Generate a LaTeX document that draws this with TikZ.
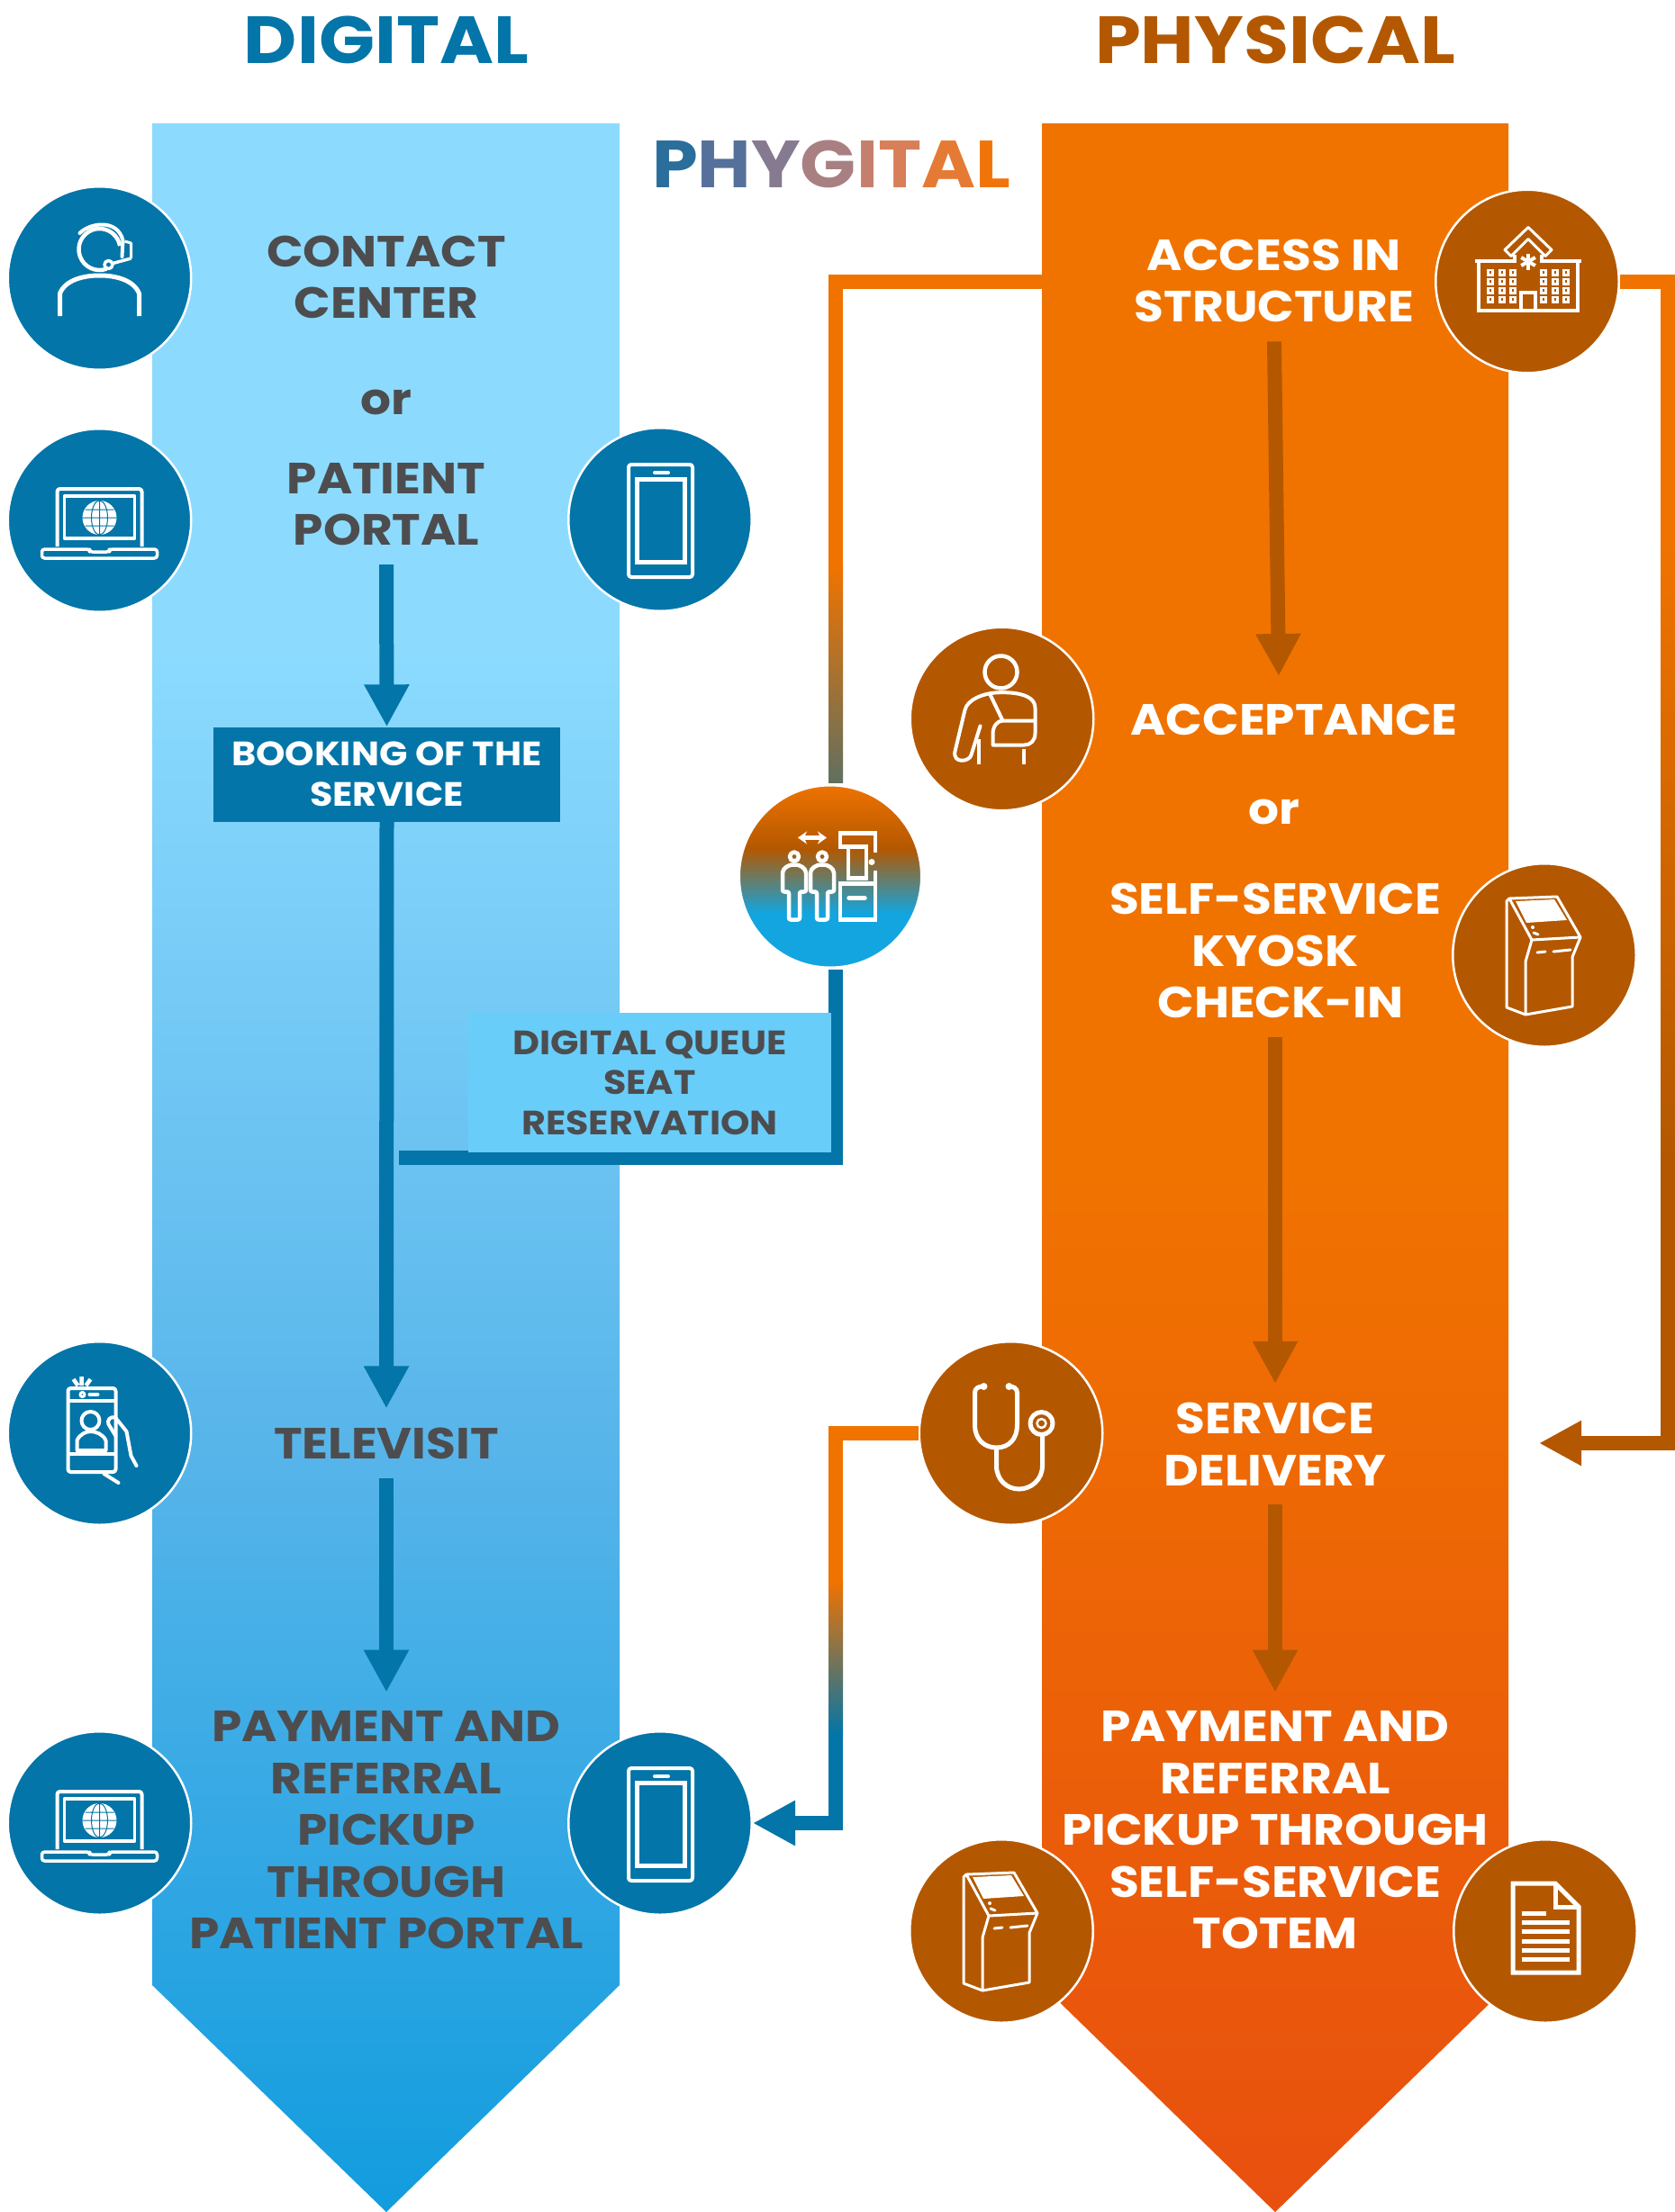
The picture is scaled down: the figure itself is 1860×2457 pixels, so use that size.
\documentclass[tikz,border=0pt]{standalone}
\usepackage{fontspec}
\setmainfont{Poppins}[FakeStretch=1.1]
\usetikzlibrary{arrows.meta,positioning,calc}

\definecolor{digitalblue}{HTML}{0375A8}
\definecolor{physbrown}{HTML}{B35800}
\definecolor{physorange}{HTML}{F07300}
\definecolor{labelgray}{HTML}{4D4D4F}
\definecolor{queuefill}{HTML}{69CDF9}
\definecolor{skyblue}{HTML}{12A5E0}
\definecolor{midgray}{HTML}{61705F}
\definecolor{panelbottom}{HTML}{129CDE}
\definecolor{panelmid}{HTML}{58B5EA}
\definecolor{paneltop}{HTML}{8CDBFF}
\definecolor{orangeend}{HTML}{E8500F}

% 25bp is the bottom of the shaded path, 75bp its top
\pgfdeclareverticalshading{digitalpanel}{100bp}{color(0bp)=(panelbottom);color(25bp)=(panelbottom);color(43.5bp)=(panelmid);color(62.5bp)=(paneltop);color(75bp)=(paneltop);color(100bp)=(paneltop)}
\pgfdeclareverticalshading{physicalpanel}{100bp}{color(0bp)=(orangeend);color(25bp)=(orangeend);color(50bp)=(physorange);color(100bp)=(physorange)}
\pgfdeclareverticalshading{queuedot}{100bp}{color(0bp)=(skyblue);color(40bp)=(skyblue);color(57.5bp)=(physbrown);color(75bp)=(physorange);color(100bp)=(physorange)}

\tikzset{
    iconline/.style={draw=white, line width=4pt, fill=none, line join=round},
    laptopicon/.pic={
        \draw[iconline, rounded corners=3pt] (-47,29) -- (-47,-35) -- (47,-35) -- (47,29);
        \draw[iconline, line width=3.5pt] (-39,-27) rectangle (39,20);
        \fill[white] (0,-3) circle[radius=19pt];
        \draw[digitalblue, line width=1pt] (0,-3) circle[x radius=9pt, y radius=19pt] (-19,-3) -- (19,-3) (0,-22) -- (0,16) (-16,-12) -- (16,-12) (-16,6) -- (16,6);
        \draw[iconline, line width=3.5pt, rounded corners=3pt] (-64,32) -- (-64,42) -- (64,42) -- (64,32) -- (11,32) -- (11,35) -- (-11,35) -- (-11,32) -- cycle;
    },
    phoneicon/.pic={
        \draw[iconline, rounded corners=3pt] (-35,-61) rectangle (36,64);
        \draw[iconline, line width=5pt, line join=miter] (-26,-45) rectangle (27,47);
        \draw[white, line width=4pt, line cap=round] (-6,-52) -- (9,-52);
    },
    kioskicon/.pic={
        \draw[iconline, line width=3pt] (-39,-63) -- (-42,-60) -- (-42,58) -- (-21,66) -- (31,57) -- (31,2) -- (40,-20) -- (14,-65) -- cycle;
        \draw[iconline, line width=3pt] (-39,-63) -- (-14,-17) -- (40,-20) (-14,-17) -- (-21,7) -- (-21,66);
        \fill[white] (-32,-60) -- (11,-62) -- (25,-39) -- (-20,-36) -- cycle;
        \fill[white] (-13,-31) circle[radius=2pt];
        \draw[white, line width=3pt, line cap=round] (-12,-25) -- (-7,-23) (-8,-3) -- (1,-4) (10,-4) -- (29,-6);
    },
}

\begin{document}
\begin{tikzpicture}[
        x=1pt, y=-1pt,
        every node/.style={inner sep=0pt, align=center},
        bluedot/.style={circle, draw=white, line width=2.5pt, fill=digitalblue, minimum size=203.5pt},
        browndot/.style={circle, draw=white, line width=2.5pt, fill=physbrown, minimum size=203.5pt},
        mixdot/.style={circle, draw=white, line width=5pt, shading=queuedot, minimum size=205pt},
        grayline/.style={text=labelgray, font=\fontsize{48.5}{57.5}\selectfont\bfseries, inner ysep=21pt},
        whiteline/.style={text=white, font=\fontsize{48.5}{57.5}\selectfont\bfseries, inner ysep=21pt},
        smallhead/.style={font=\fontsize{37.5}{44.5}\selectfont\bfseries},
        titlehead/.style={font=\fontsize{74}{74}\selectfont\bfseries},
        bluearrow/.style={draw=digitalblue, line width=16pt, -{Triangle[width=47pt,length=47pt]}},
        brownarrow/.style={draw=physbrown, line width=16pt, -{Triangle[width=47pt,length=47pt]}},
    ]
    \useasboundingbox (0,0) rectangle (1860,2457);

    % the two big arrows
    \shade[shading=digitalpanel] (169,137) -- (688,137) -- (688,2205) -- (429,2457) -- (169,2205) -- cycle;
    \shade[shading=physicalpanel] (1157,137) -- (1675,137) -- (1675,2205) -- (1416,2457) -- (1157,2205) -- cycle;

    % titles
    \node[titlehead, text=digitalblue] (digitaltitle) at (429,44) {DIGITAL};
    \node[titlehead, text=physbrown] (physicaltitle) at (1416,44) {PHYSICAL};
    \node[titlehead] (phygitaltitle) at (923,182) {\textcolor[HTML]{2A6E9C}{P}\textcolor[HTML]{55709A}{H}\textcolor[HTML]{857A90}{Y}\textcolor[HTML]{A98082}{G}\textcolor[HTML]{C57F6C}{I}\textcolor[HTML]{D87E58}{T}\textcolor[HTML]{E57A35}{A}\textcolor[HTML]{F0740A}{L}};

    % digital column
    \node[grayline] (contact) at (429,308) {CONTACT\\CENTER};
    \node[grayline] (ordigital) at (429,447) {or};
    \node[grayline] (portal) at (429,560) {PATIENT\\PORTAL};
    \node[fill=digitalblue, text=white, smallhead, minimum width=385pt, minimum height=105pt] (booking) at (429.5,860) {BOOKING OF THE\\SERVICE};
    \node[grayline] (televisit) at (429,1603) {TELEVISIT};
    \node[grayline] (paydigital) at (429,2033) {PAYMENT AND\\REFERRAL\\PICKUP\\THROUGH\\PATIENT PORTAL};

    % physical column
    \node[whiteline] (access) at (1415,312) {ACCESS IN\\STRUCTURE};
    \node[whiteline] (acceptance) at (1437,799) {ACCEPTANCE};
    \node[whiteline] (orphysical) at (1415,902) {or};
    \node[whiteline] (kyosk) at (1416,1056) {SELF-SERVICE\\KYOSK\\\hspace*{12pt}CHECK-IN};
    \node[whiteline] (service) at (1416,1604) {SERVICE\\DELIVERY};
    \node[whiteline] (payphysical) at (1416,2033) {PAYMENT AND\\REFERRAL\\PICKUP THROUGH\\SELF-SERVICE\\TOTEM};

    % circles
    \node[bluedot] (headset) at (110.5,309) {};
    \node[bluedot] (laptopa) at (110.5,578) {};
    \node[bluedot] (phonea) at (733,577) {};
    \node[bluedot] (visitdot) at (110.5,1592) {};
    \node[bluedot] (laptopb) at (110.5,2025) {};
    \node[bluedot] (phoneb) at (733,2025) {};
    \node[browndot] (hospital) at (1696,312.5) {};
    \node[browndot] (sling) at (1112.5,798.5) {};
    \node[browndot] (kioska) at (1715,1061) {};
    \node[browndot] (stetho) at (1122.5,1592) {};
    \node[browndot] (kioskb) at (1112,2145) {};
    \node[browndot] (document) at (1716,2145) {};
    \node[mixdot] (queue) at (922,973.5) {};

    % connector ends and colour changes
    \coordinate (panelexit) at (1157,313);
    \coordinate (exitfade) at (928,628);
    \coordinate (exitgray) at (928,869);
    \coordinate (queuestart) at (928,1077);
    \coordinate (queueend) at (443,1286);
    \coordinate (acceptin) at (1420,751);
    \coordinate (loopfade) at (1852,600);
    \coordinate (loopbrown) at (1852,1290);
    \coordinate (loopend) at (1709,1603);
    \coordinate (backfade) at (928,1756);
    \coordinate (backblue) at (928,1927);

    % straight arrows
    \draw[bluearrow] (portal.south) -- (booking.north);
    \draw[bluearrow] (booking.south) -- (televisit.north);
    \draw[bluearrow] (televisit.south) -- (paydigital.north);
    \draw[brownarrow] (access.south) -- (acceptin);
    \draw[brownarrow] (kyosk.south -| service.north) -- (service.north);
    \draw[brownarrow] (service.south) -- (payphysical.north);

    % phygital links
    \draw[physorange, line width=16pt] (panelexit) -| (exitfade);
    \shade[top color=physorange, bottom color=midgray] ($(exitfade)+(-8,0)$) rectangle ($(exitgray)+(8,0)$);
    \draw[digitalblue, line width=16pt] (queuestart) |- (queueend);
    \node[fill=queuefill, text=labelgray, smallhead, minimum width=403pt, minimum height=155pt] (seat) at (721.5,1202.5) {DIGITAL QUEUE\\SEAT\\RESERVATION};

    \draw[physorange, line width=16pt] (hospital.east |- panelexit) -| (loopfade);
    \shade[top color=physorange, bottom color=physbrown] ($(loopfade)+(-8,0)$) rectangle ($(loopbrown)+(8,0)$);
    \draw[brownarrow] (loopbrown) |- (loopend);

    \draw[physorange, line width=16pt] (stetho.west) -| (backfade);
    \shade[top color=physorange, bottom color=digitalblue] ($(backfade)+(-8,0)$) rectangle ($(backblue)+(8,0)$);
    \draw[bluearrow] (backblue) |- (phoneb.east);

    % icons
    \pic at (laptopa) {laptopicon};
    \pic at (laptopb) {laptopicon};
    \pic at (phonea) {phoneicon};
    \pic at (phoneb) {phoneicon};
    \pic at (kioska) {kioskicon};
    \pic at (kioskb) {kioskicon};

    \begin{scope}[shift={(headset)}]
        \draw[iconline, line width=4.5pt] (0,-32) ++(-70:23pt) arc[start angle=-70, end angle=-350, radius=23pt];
        \draw[iconline, line cap=round] (-22,-50) .. controls (-10,-62) and (20,-66) .. (26,-42) -- (25,-24);
        \draw[iconline, line width=3pt] (28,-41) -- (35,-39) -- (35,-22);
        \draw[iconline, line width=3.5pt] (13,-16) -- (35,-22);
        \draw[iconline, fill=digitalblue, line width=3.5pt] (10,-15) circle[radius=4.5pt];
        \draw[iconline, line width=5pt, line join=round] (-44,42) -- (-44,17) .. controls (-38,2) and (-18,-3) .. (0,-3) .. controls (18,-3) and (38,2) .. (44,17) -- (44,42);
    \end{scope}

    \begin{scope}[shift={(visitdot)}]
        \draw[iconline, rounded corners=3pt] (-35,-50) rectangle (18,43);
        \draw[iconline] (-35,-36) -- (18,-36) (-35,23) -- (18,23);
        \draw[iconline, line width=3pt] (-19,-43) circle[radius=2.5pt];
        \draw[white, line width=4pt, line cap=round] (-11,-43) -- (-2,-43);
        \draw[white, line width=4.5pt] (-20,-63) -- (-20,-53) (-29,-60) -- (-24,-53) (-10,-60) -- (-15,-53);
        \draw[iconline] (-10,-14) circle[radius=10pt];
        \draw[iconline] (-25,19) -- (-25,8) .. controls (-22,1) and (-15,-2) .. (-10,-2) .. controls (-4,-2) and (4,1) .. (7,8) -- (7,19) -- cycle;
        \draw[iconline, line cap=round] (18,-17) -- (30,-2) -- (35,25) -- (41,36);
        \draw[iconline, line cap=round] (18,-17) .. controls (12,-20) and (8,-14) .. (10,-10) -- (18,3);
        \draw[iconline, line cap=round] (5,45) -- (21,55);
    \end{scope}

    \begin{scope}[shift={(hospital)}]
        \draw[iconline, line width=3pt] (-25,-35) -- (1,-60) -- (27,-35) -- (20,-28) -- (1,-47) -- (-18,-28) -- cycle;
        \draw[iconline, line join=miter] (-58,-23) -- (-14,-23) -- (-14,-30) (60,-23) -- (16,-23) -- (16,-30);
        \draw[iconline, line join=miter] (-54,-21) -- (-54,32) -- (56,32) -- (56,-21);
        \draw[iconline, line join=miter] (-7,32) -- (-7,12) -- (9,12) -- (9,32);
        \foreach \spoke in {90,30,-30}
            \draw[white, line width=4pt] (1,-22) ++(\spoke:9pt) -- ++(\spoke+180:18pt);
        \foreach \wx in {-41,-28,-16,18,31,43}
            \foreach \wy in {-10,0,10,20} {
                \fill[white] (\wx-4,\wy-4) rectangle (\wx+4,\wy+4);
                \fill[physbrown] (\wx-1.2,\wy-1.2) rectangle (\wx+1.2,\wy+1.2);
            }
    \end{scope}

    \begin{scope}[shift={(sling)}]
        \draw[iconline, line width=4.5pt] (-1,-52) circle[radius=18pt];
        \draw[iconline, line cap=round] (-24,8) -- (-34,40) .. controls (-36,48) and (-55,50) .. (-52,36) -- (-41,-10) .. controls (-38,-22) and (-20,-28) .. (-8,-29) .. controls (5,-30) and (37,-30) .. (37,-12) -- (37,16) .. controls (37,24) and (32,29) .. (25,29) -- (-10,29) -- (-10,17) .. controls (-10,8) and (-5,2) .. (1,2) -- (37,2);
        \draw[iconline] (-13,-27) -- (1,2);
        \draw[iconline] (-26,22) -- (-26,50) (24,33) -- (24,50);
    \end{scope}

    \begin{scope}[shift={(stetho)}]
        \draw[iconline, line width=5pt] (-31,-52) .. controls (-36,-52) and (-40,-50) .. (-40,-45) -- (-40,-9) .. controls (-40,6) and (-30,16) .. (-16,16) .. controls (-2,16) and (7,6) .. (7,-9) -- (7,-45) .. controls (7,-50) and (3,-52) .. (-2,-52);
        \fill[white] (-30,-52) circle[radius=4pt] (-2,-52) circle[radius=4pt];
        \draw[iconline, line width=5pt] (-16,16) -- (-16,36) .. controls (-16,52) and (-4,62) .. (9,62) .. controls (22,62) and (35,52) .. (35,36) -- (35,3);
        \draw[iconline, line width=5pt] (34,-11) circle[radius=12.5pt];
        \draw[iconline, line width=2.5pt] (34,-11) circle[radius=5pt];
    \end{scope}

    \begin{scope}[shift={(document)}]
        \draw[iconline, line width=5pt, line join=miter] (-36,-53) -- (11,-53) -- (37,-27) -- (37,46) -- (-36,46) -- cycle;
        \draw[iconline, line width=5pt, line join=miter] (11,-53) -- (11,-27) -- (37,-27);
        \draw[white, line width=5pt] (-26,-20) -- (1,-20);
        \foreach \ly in {-10,0,11,21,31}
            \draw[white, line width=5pt] (-26,\ly) -- (27,\ly);
    \end{scope}

    \begin{scope}[shift={(queue)}]
        \draw[white, line width=4.5pt, {Stealth[width=14pt,length=10pt]}-{Stealth[width=14pt,length=10pt]}] (-36,-43) -- (-4,-43);
        \foreach \px in {-40,-9} {
            \draw[iconline, line width=4.5pt] (\px,-22) circle[radius=5pt];
            \draw[iconline, line width=4.5pt, rounded corners=2pt] (\px-6,48) -- (\px-6,17) -- (\px-13,17) -- (\px-13,-2) .. controls (\px-13,-9) and (\px-6,-13) .. (\px,-13) .. controls (\px+6,-13) and (\px+13,-9) .. (\px+13,-2) -- (\px+13,17) -- (\px+6,17) -- (\px+6,48) -- cycle;
        }
        \draw[iconline, line width=4.5pt, line join=miter] (50,-27) -- (50,-48) -- (11,-48) -- (11,-33) -- (40,-33) -- (40,2) -- (20,2) -- (20,-33);
        \draw[iconline, line width=4.5pt, line join=miter] (50,-7) -- (50,48) -- (11,48) -- (11,8) -- (50,8);
        \draw[white, line width=5.5pt, line cap=round] (21,24) -- (38,24);
        \fill[white] (46,-16) circle[radius=3.5pt];
    \end{scope}
\end{tikzpicture}
\end{document}
